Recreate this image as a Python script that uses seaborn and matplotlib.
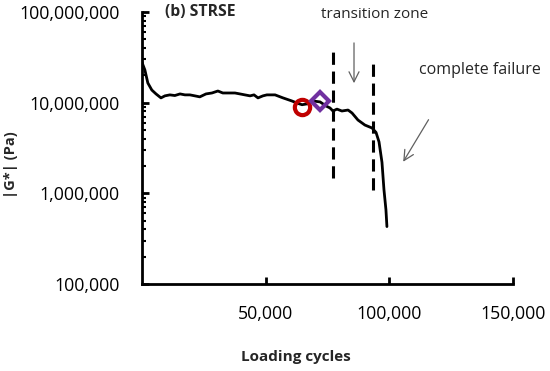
import numpy as np
import pandas as pd
import matplotlib
matplotlib.use("Agg")
import matplotlib.pyplot as plt
import seaborn as sns
from matplotlib.ticker import FixedLocator, LogLocator, NullFormatter, FuncFormatter

# ---- data ----
cycles = [0, 1200, 2400, 4000, 5700, 7700, 9300, 11300, 13300, 15400, 17400,
          19400, 21400, 23400, 25900, 28300, 30700, 32700, 35600, 37600, 39600,
          41600, 43700, 45300, 46900, 48900, 50500, 53800, 57000, 60600, 62700,
          64700, 66700, 69100, 72000, 74400, 76000, 77200, 78800, 80800, 83300,
          84900, 87300, 90100, 93000, 94600, 95800, 97000, 97800, 98600, 99000]
g_star = [2.8e7, 2.3e7, 1.65e7, 1.38e7, 1.25e7, 1.13e7, 1.19e7, 1.22e7, 1.2e7,
          1.25e7, 1.22e7, 1.22e7, 1.19e7, 1.16e7, 1.25e7, 1.28e7, 1.346e7,
          1.28e7, 1.28e7, 1.28e7, 1.25e7, 1.22e7, 1.19e7, 1.22e7, 1.13e7,
          1.19e7, 1.22e7, 1.22e7, 1.13e7, 1.045e7, 9.9e6, 9.5e6, 9.7e6, 1.045e7,
          1.02e7, 9.2e6, 8.75e6, 8.1e6, 8.5e6, 8.1e6, 8.3e6, 7.7e6, 6.44e6,
          5.67e6, 5.26e6, 4.7e6, 3.7e6, 2.2e6, 1.1e6, 6.6e5, 4.3e5]

circle_pt = (64700, 8.9e6)
diamond_pt = (72000, 1.05e7)

zone_lines_x = [77400, 93500]
zone_lines_top = [4.1e7, 3.1e7]
zone_lines_bottom = [1.48e6, 1.1e6]

yticks = [1e5, 1e6, 1e7, 1e8]
xticks = [50000, 100000, 150000]

title_text = "(b) STRSE"
xlabel = "Loading cycles"
ylabel = "|G*| (Pa)"

# ---- plot ----
sns.set_style("white")
plt.rcParams['font.family'] = ['Open Sans', 'DejaVu Sans']

fig = plt.figure(figsize=(5.5, 3.71), dpi=100)
ax = fig.add_axes([0.258, 0.2345, 0.675, 0.733])

df = pd.DataFrame({"cycles": cycles, "G": g_star})
sns.lineplot(data=df, x="cycles", y="G", ax=ax, color="black", lw=2.0)

ax.plot(*circle_pt, marker="o", ms=11, mfc="none", mec="#C00000", mew=3, ls="none")
ax.plot(*diamond_pt, marker="D", ms=9, mfc="none", mec="#7030A0", mew=3, ls="none")

for xv, yt, yb in zip(zone_lines_x, zone_lines_top, zone_lines_bottom):
    ax.plot([xv, xv], [yb, yt], color="black", lw=2.2, ls=(0, (4, 2.2)))

ax.set_yscale("log")
ax.set_xlim(0, 150000)
ax.set_ylim(1e5, 1e8)
ax.yaxis.set_major_locator(FixedLocator(yticks))
ax.yaxis.set_minor_locator(LogLocator(base=10, subs=np.arange(2, 10)))
ax.yaxis.set_minor_formatter(NullFormatter())
ax.yaxis.set_major_formatter(FuncFormatter(lambda v, p: f"{int(round(v)):,}"))
ax.xaxis.set_major_locator(FixedLocator(xticks))
ax.xaxis.set_major_formatter(FuncFormatter(lambda v, p: f"{int(round(v)):,}"))

for s in ["top", "right"]:
    ax.spines[s].set_visible(False)
for s in ["left", "bottom"]:
    ax.spines[s].set_linewidth(2)
    ax.spines[s].set_color("black")

ax.tick_params(axis="both", which="both", left=True, bottom=True, right=False, top=False)
ax.tick_params(axis="both", which="major", direction="in", length=5, width=2,
               labelsize=12.8, colors="black")
ax.tick_params(axis="y", which="major", pad=16)
ax.tick_params(axis="y", which="minor", direction="in", length=3, width=1.5, colors="black")
ax.tick_params(axis="x", which="major", pad=15)

ax.set_xlabel(xlabel, fontsize=11, fontweight="bold")
ax.set_ylabel(ylabel, fontsize=10.5, fontweight="bold")
ax.xaxis.set_label_coords((296 - 142) / 371, (284 - 350) / 272)
ax.yaxis.set_label_coords((18 - 142) / 371, (284 - 165) / 272)

ax.text(9300, 1e8, title_text, fontsize=11.3, fontweight="bold", va="center", ha="left")
ax.text(94200, 9.5e7, "transition zone", fontsize=11, va="center", ha="center")
ax.text(136600, 2.3e7, "complete failure", fontsize=11.5, va="center", ha="center",
        clip_on=False)

ax.annotate("", xy=(85700, 1.53e7), xytext=(85700, 4.9e7),
            arrowprops=dict(arrowstyle="->", color="#606060", lw=0.9,
                            mutation_scale=18))
ax.annotate("", xy=(105000, 2.1e6), xytext=(116400, 6.9e6),
            arrowprops=dict(arrowstyle="->", color="#606060", lw=0.9,
                            mutation_scale=18))

fig.savefig("out.png", dpi=100)
